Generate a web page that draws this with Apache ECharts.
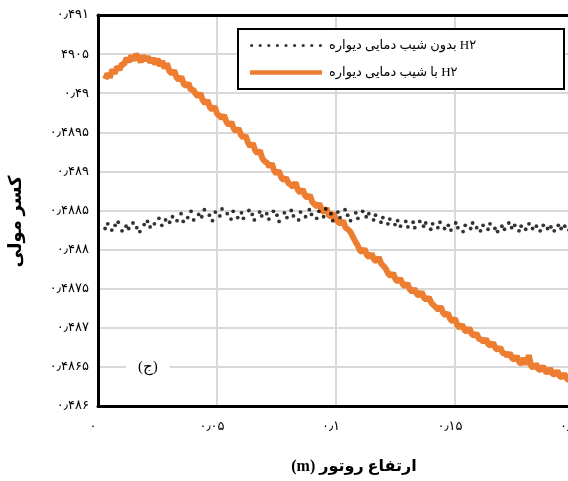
<!DOCTYPE html>
<html><head><meta charset="utf-8">
<script src="https://cdn.jsdelivr.net/npm/echarts@6/dist/echarts.min.js"></script>
<style>html,body{margin:0;padding:0;background:#fff}#c{width:568px;height:481px}</style>
</head><body><div id="c"></div>
<script>
const xTickLabels = ["۰","۰٫۰۵","۰٫۱","۰٫۱۵","۰٫۲"];
const yTickLabels = ["۰٫۴۸۶","۰٫۴۸۶۵","۰٫۴۸۷","۰٫۴۸۷۵","۰٫۴۸۸","۰٫۴۸۸۵","۰٫۴۸۹","۰٫۴۸۹۵","۰٫۴۹","۴۹۰۵","۰٫۴۹۱"];
const seriesNames = ["بدون شیب دمایی دیواره H۲","با شیب دمایی دیواره H۲"];
const xAxisName = "(m) ارتفاع روتور";
const yAxisName = "کسر مولی";
const panelLabel = "(ج)";

const blackX = [0.0030,0.0041,0.0058,0.0072,0.0085,0.0101,0.0118,0.0129,0.0147,0.0163,0.0176,0.0194,
0.0208,0.0219,0.0237,0.0256,0.0268,0.0284,0.0301,0.0313,0.0332,0.0349,0.0358,0.0377,
0.0391,0.0402,0.0423,0.0436,0.0447,0.0468,0.0481,0.0493,0.0512,0.0521,0.0543,0.0559,
0.0568,0.0587,0.0603,0.0611,0.0634,0.0648,0.0657,0.0679,0.0688,0.0709,0.0718,0.0737,
0.0752,0.0761,0.0783,0.0794,0.0812,0.0821,0.0843,0.0851,0.0872,0.0888,0.0897,0.0919,
0.0928,0.0948,0.0957,0.0979,0.0986,0.1008,0.1017,0.1038,0.1049,0.1061,0.1083,0.1092,
0.1112,0.1127,0.1138,0.1158,0.1166,0.1189,0.1197,0.1218,0.1226,0.1248,0.1259,0.1271,
0.1293,0.1302,0.1324,0.1331,0.1352,0.1368,0.1377,0.1398,0.1406,0.1428,0.1437,0.1456,
0.1472,0.1483,0.1503,0.1512,0.1534,0.1543,0.1566,0.1574,0.1591,0.1607,0.1618,0.1639,
0.1647,0.1668,0.1679,0.1697,0.1708,0.1726,0.1738,0.1751,0.1769,0.1778,0.1797,0.1811,
0.1826,0.1842,0.1858,0.1871,0.1889,0.1903,0.1917,0.1934,0.1946,0.1961,0.1979,0.1992];
const blackY = [0.48827,0.48833,0.48825,0.48831,0.48835,0.48824,0.48830,0.48827,0.48834,0.48828,0.48823,0.48832,
0.48836,0.48829,0.48833,0.48840,0.48831,0.48838,0.48835,0.48842,0.48837,0.48846,0.48836,0.48841,
0.48849,0.48838,0.48845,0.48842,0.48851,0.48844,0.48837,0.48848,0.48843,0.48852,0.48846,0.48839,
0.48849,0.48841,0.48847,0.48840,0.48850,0.48845,0.48838,0.48848,0.48843,0.48846,0.48839,0.48849,
0.48844,0.48836,0.48847,0.48841,0.48850,0.48843,0.48838,0.48848,0.48842,0.48851,0.48845,0.48840,
0.48849,0.48842,0.48852,0.48846,0.48837,0.48848,0.48841,0.48851,0.48844,0.48837,0.48847,0.48840,
0.48849,0.48842,0.48846,0.48838,0.48844,0.48835,0.48841,0.48833,0.48839,0.48832,0.48837,0.48830,
0.48836,0.48829,0.48835,0.48828,0.48836,0.48830,0.48834,0.48826,0.48833,0.48828,0.48835,0.48827,
0.48831,0.48825,0.48834,0.48828,0.48823,0.48831,0.48827,0.48834,0.48828,0.48824,0.48831,0.48826,
0.48833,0.48827,0.48823,0.48830,0.48826,0.48834,0.48828,0.48831,0.48824,0.48830,0.48826,0.48833,
0.48827,0.48830,0.48824,0.48831,0.48827,0.48829,0.48824,0.48831,0.48827,0.48830,0.48825,0.48829];

const orangeX = [0.003,0.004,0.005,0.006,0.007,0.008,0.009,0.010,
0.011,0.012,0.013,0.014,0.015,0.016,0.017,0.018,0.019,0.020,
0.021,0.022,0.023,0.024,0.025,0.026,0.027,0.028,0.029,0.030,
0.031,0.032,0.033,0.034,0.035,0.036,0.037,0.038,0.039,0.040,
0.041,0.042,0.043,0.044,0.045,0.046,0.047,0.048,0.049,0.050,
0.051,0.052,0.053,0.054,0.055,0.056,0.057,0.058,0.059,0.060,
0.061,0.062,0.063,0.064,0.065,0.066,0.067,0.068,0.069,0.070,
0.071,0.072,0.073,0.074,0.075,0.076,0.077,0.078,0.079,0.080,
0.081,0.082,0.083,0.084,0.085,0.086,0.087,0.088,0.089,0.090,
0.091,0.092,0.093,0.094,0.095,0.096,0.097,0.098,0.099,0.100,
0.101,0.102,0.103,0.104,0.105,0.106,0.107,0.108,0.109,0.110,
0.111,0.112,0.113,0.114,0.115,0.116,0.117,0.118,0.119,0.120,
0.121,0.122,0.123,0.124,0.125,0.126,0.127,0.128,0.129,0.130,
0.131,0.132,0.133,0.134,0.135,0.136,0.137,0.138,0.139,0.140,
0.141,0.142,0.143,0.144,0.145,0.146,0.147,0.148,0.149,0.150,
0.151,0.152,0.153,0.154,0.155,0.156,0.157,0.158,0.159,0.160,
0.161,0.162,0.163,0.164,0.165,0.166,0.167,0.168,0.169,0.170,
0.171,0.172,0.173,0.174,0.175,0.176,0.177,0.178,0.179,0.180,
0.181,0.182,0.183,0.184,0.185,0.186,0.187,0.188,0.189,0.190,
0.191,0.192,0.193,0.194,0.195,0.196,0.197,0.198,0.199];
const orangeY = [0.49018,0.49025,0.49020,0.49030,0.49025,0.49034,0.49030,0.49037,
0.49037,0.49045,0.49040,0.49048,0.49042,0.49050,0.49045,0.49040,0.49048,0.49042,
0.49047,0.49039,0.49045,0.49037,0.49044,0.49035,0.49041,0.49032,0.49038,0.49028,
0.49025,0.49029,0.49020,0.49017,0.49021,0.49012,0.49009,0.49013,0.49004,0.49005,
0.48999,0.48996,0.49000,0.48991,0.48987,0.48991,0.48982,0.48979,0.48983,0.48974,
0.48971,0.48968,0.48972,0.48963,0.48959,0.48963,0.48955,0.48951,0.48955,0.48947,
0.48943,0.48946,0.48937,0.48932,0.48936,0.48927,0.48923,0.48927,0.48917,0.48913,
0.48911,0.48906,0.48910,0.48901,0.48897,0.48901,0.48892,0.48889,0.48892,0.48885,
0.48883,0.48880,0.48886,0.48876,0.48873,0.48877,0.48869,0.48866,0.48870,0.48861,
0.48858,0.48855,0.48859,0.48850,0.48848,0.48853,0.48844,0.48842,0.48847,0.48838,
0.48835,0.48833,0.48837,0.48828,0.48826,0.48823,0.48817,0.48811,0.48806,0.48799,
0.48797,0.48801,0.48793,0.48790,0.48795,0.48787,0.48785,0.48790,0.48782,0.48779,
0.48775,0.48769,0.48766,0.48770,0.48762,0.48759,0.48763,0.48756,0.48753,0.48757,
0.48749,0.48746,0.48750,0.48743,0.48741,0.48746,0.48738,0.48736,0.48739,0.48732,
0.48729,0.48726,0.48723,0.48727,0.48719,0.48716,0.48719,0.48711,0.48708,0.48712,
0.48703,0.48700,0.48704,0.48697,0.48695,0.48700,0.48692,0.48690,0.48693,0.48686,
0.48685,0.48682,0.48686,0.48679,0.48677,0.48681,0.48674,0.48672,0.48675,0.48668,
0.48667,0.48664,0.48668,0.48661,0.48659,0.48664,0.48656,0.48654,0.48661,0.48653,
0.48665,0.48651,0.48649,0.48654,0.48647,0.48646,0.48651,0.48644,0.48643,0.48648,
0.48641,0.48640,0.48645,0.48638,0.48637,0.48641,0.48635,0.48633,0.48632];

const zip = (xs, ys) => xs.map((x, i) => [x, ys[i]]);
const FONT = '"Liberation Serif","DejaVu Sans",serif';

let dotsPath = 'path://';
for (let k = 0; k < 9; k++) { const cx = 1.6 + k * 8.6; dotsPath += `M${cx - 1.6},1.6a1.6,1.6 0 1,0 3.2,0a1.6,1.6 0 1,0 -3.2,0Z`; }

const chart = echarts.init(document.getElementById('c'), null, {renderer: 'canvas'});
chart.setOption({
  animation: false,
  backgroundColor: '#fff',
  grid: {left: 98, top: 15, height: 391, width: 476, containLabel: false, outerBoundsMode: 'none'},
  xAxis: [{
    type: 'value', min: 0, max: 0.2, interval: 0.05,
    name: xAxisName, nameLocation: 'middle', nameGap: 53,
    nameTextStyle: {fontFamily: FONT, fontSize: 16, fontWeight: 'bold', color: '#000', padding: [0, 0, 0, 36]},
    axisLine: {show: true, onZero: false, lineStyle: {color: '#000', width: 3}},
    axisTick: {show: false},
    axisLabel: {formatter: v => xTickLabels[Math.round(v / 0.05)], margin: 14, padding: [0, 10, 0, 0],
      fontFamily: FONT, fontSize: 13, color: '#000'},
    splitLine: {show: true, lineStyle: {color: '#d9d9d9', width: 2}}
  }, {
    type: 'value', position: 'top', min: 0, max: 0.2, interval: 0.05,
    axisLine: {show: true, lineStyle: {color: '#000', width: 3}},
    axisTick: {show: false}, axisLabel: {show: false}, splitLine: {show: false}
  }],
  yAxis: {
    type: 'value', min: 0.486, max: 0.491, interval: 0.0005,
    name: yAxisName, nameLocation: 'middle', nameGap: 73, nameRotate: 90,
    nameTextStyle: {fontFamily: FONT, fontSize: 18, fontWeight: 'bold', color: '#000', padding: [0, 22, 0, 0]},
    axisLine: {show: true, onZero: false, lineStyle: {color: '#000', width: 3}},
    axisTick: {show: false},
    axisLabel: {formatter: v => yTickLabels[Math.round((v - 0.486) / 0.0005)], margin: 9, padding: [0, 0, 4, 0],
      fontFamily: FONT, fontSize: 13, color: '#000'},
    splitLine: {show: true, lineStyle: {color: '#d9d9d9', width: 2}}
  },
  legend: {
    orient: 'vertical', left: 245, top: 34, itemWidth: 72, itemHeight: 10, itemGap: 14,
    z: 5,
    data: [
      {name: seriesNames[0], icon: dotsPath},
      {name: seriesNames[1], icon: 'path://M0,0L72,0L72,4.5L0,4.5Z'}
    ],
    textStyle: {fontFamily: FONT, fontSize: 13, color: '#000', padding: [0, 0, 0, 2]}
  },
  graphic: [
    {type: 'rect', left: 237, top: 28, z: 3, shape: {width: 326, height: 60},
      style: {fill: '#fff', stroke: '#000', lineWidth: 2}},
    {type: 'text', left: 126, top: 357, z: 3,
      style: {text: panelLabel, font: '15px ' + FONT, fill: '#000', backgroundColor: '#fff', padding: [3, 12, 3, 12]}}
  ],
  series: [
    {name: seriesNames[1], type: 'line', data: zip(orangeX, orangeY), showSymbol: false, symbol: 'none',
      color: '#ED7D31', lineStyle: {color: '#ED7D31', width: 6}, z: 2},
    {name: seriesNames[0], type: 'scatter', data: zip(blackX, blackY), symbolSize: 3.8,
      color: '#000', itemStyle: {color: '#000'}, z: 3}
  ]
});
</script></body></html>
